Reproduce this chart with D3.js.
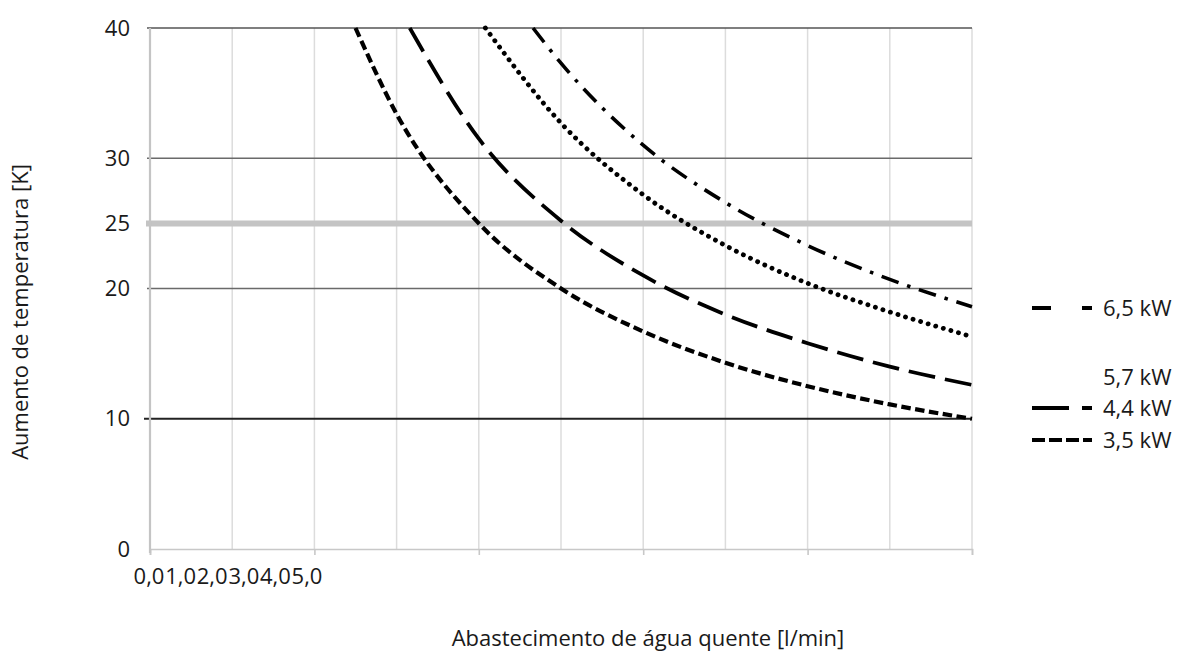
<!DOCTYPE html>
<html>
<head>
<meta charset="utf-8">
<script src="https://cdn.jsdelivr.net/npm/d3@7"></script>
<style>
  body { margin: 0; background: #fff; }
  text { font-family: "Open Sans", sans-serif; fill: #1a1a1a; }
</style>
</head>
<body>
<div id="chart"></div>
<script>
// flow [l/min] and temperature rise [K]
var flow35 = [1.25, 1.5, 2.0, 2.5, 3.0, 3.5, 4.0, 4.5, 5.0];
var rise35 = [40, 33.4, 25, 20, 16.7, 14.3, 12.5, 11.1, 10];
var flow44 = [1.58, 2.0, 2.5, 3.0, 3.5, 4.0, 4.5, 5.0];
var rise44 = [40, 31.5, 25.2, 21, 18, 15.8, 14, 12.6];
var flow57 = [2.04, 2.5, 3.0, 3.5, 4.0, 4.5, 5.0];
var rise57 = [40, 32.7, 27.2, 23.3, 20.4, 18.2, 16.3];
var flow65 = [2.33, 2.5, 3.0, 3.5, 4.0, 4.5, 5.0];
var rise65 = [40, 37.3, 31, 26.6, 23.3, 20.7, 18.6];

var seriesNames = ["6,5 kW", "5,7 kW", "4,4 kW", "3,5 kW"];
var yTicks = [0, 10, 20, 25, 30, 40];
var xLabels = ["0,0", "1,0", "2,0", "3,0", "4,0", "5,0"];

var series = [
    {name: seriesNames[0], x: flow65, y: rise65, dash: "18,9,3.5,9", width: 3.6, cap: "butt", legendDash: "19,31,10", legendY: 308},
    {name: seriesNames[1], x: flow57, y: rise57, dash: "0.1,7.8", width: 4.8, cap: "round", legendDash: null, legendY: 377},
    {name: seriesNames[2], x: flow44, y: rise44, dash: "27,10", width: 3.8, cap: "butt", legendDash: "37,13,10", legendY: 408},
    {name: seriesNames[3], x: flow35, y: rise35, dash: "9.5,4.5", width: 4.2, cap: "butt", legendDash: "13,4", legendY: 440}
];

var margin = ({top: 28, right: 212, bottom: 107, left: 150});
var width = 1184 - margin.left - margin.right,
    height = 656 - margin.top - margin.bottom;

var svg = d3.select("#chart").append("svg")
    .attr("width", 1184)
    .attr("height", 656);

var g = svg.append("g")
    .attr("transform", "translate(" + margin.left + "," + margin.top + ")");

const xScale = d3.scaleLinear().domain([0, 5]).range([0, width]);
const yScale = d3.scaleLinear().domain([0, 40]).range([height, 0]);

// vertical grid every 0,5
g.append("g")
    .selectAll("line")
    .data(d3.range(1, 11).map(d => d / 2))
    .join("line")
    .attr("x1", d => xScale(d)).attr("x2", d => xScale(d))
    .attr("y1", 0).attr("y2", height)
    .attr("stroke", "#dcdcdc")
    .attr("stroke-width", 1.5);

// 25 K band
g.append("line")
    .attr("x1", -4).attr("x2", width)
    .attr("y1", yScale(25)).attr("y2", yScale(25))
    .attr("stroke", "#c4c4c4")
    .attr("stroke-width", 6);

// horizontal grid
const hColor = {10: "#222", 20: "#6a6a6a", 30: "#6a6a6a", 40: "#555"};
g.append("g")
    .selectAll("line")
    .data([10, 20, 30, 40])
    .join("line")
    .attr("x1", d => d == 10 ? -6 : -3).attr("x2", width)
    .attr("y1", d => yScale(d)).attr("y2", d => yScale(d))
    .attr("stroke", d => hColor[d])
    .attr("stroke-width", d => d == 10 ? 1.8 : 1.6);

// axes lines
const xAxis = d3.axisBottom(xScale).ticks(5).tickSize(6).tickFormat("");
g.append("g")
    .attr("class", "axis x-axis")
    .attr("transform", `translate(0, ${height})`)
    .call(xAxis)
    .call(a => a.selectAll("path, line").attr("stroke", "#c8c8c8").attr("stroke-width", 1.6));

g.append("line")
    .attr("x1", 0).attr("x2", 0)
    .attr("y1", 0).attr("y2", height + 4)
    .attr("stroke", "#c4c4c4")
    .attr("stroke-width", 2.2);

// y tick labels
const yAxis = d3.axisLeft(yScale).tickValues(yTicks).tickSize(0).tickPadding(20);
g.append("g")
    .attr("class", "axis y-axis")
    .call(yAxis)
    .call(a => a.select(".domain").remove())
    .call(a => a.selectAll("text").style("font-size", "22px").attr("fill", "#1a1a1a"));

// crammed x tick labels
const labelScale = d3.scalePoint().domain(xLabels).range([-1.5, 156.5]);
g.append("g")
    .attr("transform", `translate(0, ${height + 19})`)
    .call(d3.axisBottom(labelScale).tickSize(0).tickPadding(0))
    .call(a => a.select(".domain").remove())
    .call(a => a.selectAll("text").style("font-size", "22px").attr("fill", "#1a1a1a"));

// curves
var line = d3.line()
    .x(d => xScale(d[0]))
    .y(d => yScale(d[1]))
    .curve(d3.curveMonotoneX);

g.selectAll(".curve")
    .data(series)
    .join("path")
    .attr("class", "curve")
    .attr("d", s => line(s.x.map((v, i) => [v, s.y[i]])))
    .attr("fill", "none")
    .attr("stroke", "#000")
    .attr("stroke-width", s => s.width)
    .attr("stroke-dasharray", s => s.dash)
    .attr("stroke-linecap", s => s.cap);

// legend
var legend = svg.append("g")
    .selectAll("g")
    .data(series)
    .join("g")
    .attr("transform", s => `translate(1032, ${s.legendY})`);

legend.filter(s => s.legendDash)
    .append("line")
    .attr("x1", 0).attr("x2", 60)
    .attr("stroke", "#000")
    .attr("stroke-width", 4)
    .attr("stroke-dasharray", s => s.legendDash);

legend.append("text")
    .attr("x", 71)
    .attr("dy", "0.35em")
    .style("font-size", "22px")
    .text(s => s.name);

// titles
svg.append("text")
    .attr("transform", "translate(28,312) rotate(-90)")
    .attr("text-anchor", "middle")
    .style("font-size", "22px")
    .text("Aumento de temperatura [K]");

svg.append("text")
    .attr("x", 648)
    .attr("y", 646)
    .attr("text-anchor", "middle")
    .style("font-size", "22px")
    .text("Abastecimento de água quente [l/min]");
</script>
</body>
</html>
